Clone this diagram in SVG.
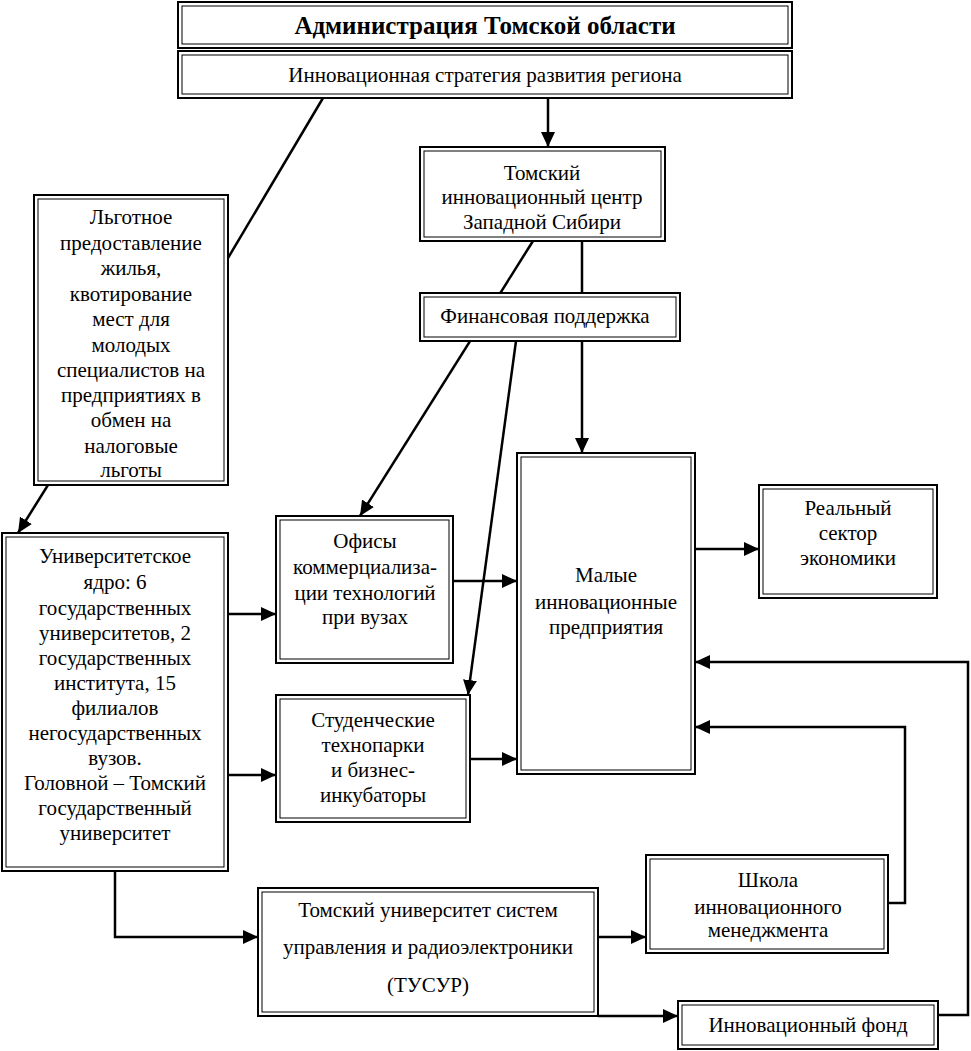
<svg xmlns="http://www.w3.org/2000/svg" width="971" height="1051" viewBox="0 0 971 1051">
<style>
.o{fill:#fff;stroke:#000;stroke-width:2}
.i{fill:none;stroke:#000;stroke-width:1}
text{font-family:"Liberation Serif","DejaVu Serif","Times New Roman",serif;font-size:21px;fill:#000;text-anchor:middle}
.b{font-weight:bold;font-size:25px}
.c{fill:none;stroke:#000;stroke-width:2.5}
.a{marker-end:url(#ah)}
</style>
<defs>
<marker id="ah" markerUnits="userSpaceOnUse" markerWidth="16" markerHeight="14" refX="15" refY="7" orient="auto">
<path d="M0,0 L15,7 L0,14 Z" fill="#000"/>
</marker>
</defs>
<g id="connectors">
<line class="c" x1="323" y1="98" x2="228" y2="258"/>
<line class="c a" x1="548" y1="98" x2="548" y2="147"/>
<line class="c a" x1="533" y1="241" x2="360" y2="516"/>
<line class="c" x1="582" y1="241" x2="582" y2="293"/>
<line class="c a" x1="582" y1="341" x2="582" y2="453"/>
<line class="c a" x1="516" y1="341" x2="468" y2="695"/>
<line class="c a" x1="48" y1="485" x2="18" y2="533"/>
<line class="c a" x1="228" y1="614" x2="276" y2="614"/>
<line class="c a" x1="228" y1="775" x2="276" y2="775"/>
<line class="c a" x1="453" y1="581" x2="517" y2="581"/>
<line class="c a" x1="470" y1="759" x2="517" y2="759"/>
<line class="c a" x1="695" y1="549" x2="759" y2="549"/>
<polyline class="c a" points="938,1015 968,1015 968,662 695,662"/>
<polyline class="c a" points="888,903 905,903 905,727 695,727"/>
<polyline class="c a" points="115,871 115,937 258,937"/>
<line class="c a" x1="598" y1="937" x2="646" y2="937"/>
<line class="c a" x1="598" y1="1016" x2="678" y2="1016"/>
</g>
<g id="admin"><rect class="o" x="178" y="2" width="614" height="46"/><rect class="i" x="182" y="6" width="606" height="38"/><text class="b" x="485" y="34">Администрация Томской области</text></g>
<g id="strategy"><rect class="o" x="178" y="51" width="614" height="47"/><rect class="i" x="182" y="55" width="606" height="39"/><text x="485" y="82">Инновационная стратегия развития региона</text></g>
<g id="center"><rect class="o" x="420" y="147" width="245" height="94"/><rect class="i" x="424" y="151" width="237" height="86"/><text x="542" y="180">Томский</text><text x="542" y="204">инновационный центр</text><text x="542" y="229">Западной Сибири</text></g>
<g id="finance"><rect class="o" x="420" y="293" width="260" height="48"/><rect class="i" x="424" y="297" width="252" height="40"/><text x="545" y="323">Финансовая поддержка</text></g>
<g id="housing"><rect class="o" x="34" y="195" width="194" height="290"/><rect class="i" x="38" y="199" width="186" height="282"/>
<text x="131" y="224">Льготное</text><text x="131" y="250">предоставление</text><text x="131" y="275">жилья,</text><text x="131" y="301">квотирование</text><text x="131" y="326">мест для</text><text x="131" y="352">молодых</text><text x="131" y="377">специалистов на</text><text x="131" y="402">предприятиях в</text><text x="131" y="427">обмен на</text><text x="131" y="453">налоговые</text><text x="131" y="477">льготы</text></g>
<g id="university"><rect class="o" x="2" y="533" width="226" height="338"/><rect class="i" x="6" y="537" width="218" height="330"/>
<text x="115" y="563">Университетское</text><text x="115" y="589">ядро: 6</text><text x="115" y="615">государственных</text><text x="115" y="640">университетов, 2</text><text x="115" y="665">государственных</text><text x="115" y="690">института, 15</text><text x="115" y="715">филиалов</text><text x="115" y="740">негосударственных</text><text x="115" y="765">вузов.</text><text x="115" y="790">Головной – Томский</text><text x="115" y="815">государственный</text><text x="115" y="840">университет</text></g>
<g id="offices"><rect class="o" x="276" y="516" width="177" height="147"/><rect class="i" x="280" y="520" width="169" height="139"/>
<text x="365" y="548">Офисы</text><text x="365" y="574">коммерциализа-</text><text x="365" y="600">ции технологий</text><text x="365" y="624">при вузах</text></g>
<g id="technoparks"><rect class="o" x="276" y="695" width="194" height="127"/><rect class="i" x="280" y="699" width="186" height="119"/>
<text x="373" y="727">Студенческие</text><text x="373" y="752">технопарки</text><text x="373" y="777">и бизнес-</text><text x="373" y="802">инкубаторы</text></g>
<g id="small"><rect class="o" x="517" y="453" width="178" height="321"/><rect class="i" x="521" y="457" width="170" height="313"/>
<text x="606" y="582">Малые</text><text x="606" y="609">инновационные</text><text x="606" y="634">предприятия</text></g>
<g id="real"><rect class="o" x="759" y="485" width="178" height="113"/><rect class="i" x="763" y="489" width="170" height="105"/>
<text x="848" y="515">Реальный</text><text x="848" y="540">сектор</text><text x="848" y="565">экономики</text></g>
<g id="school"><rect class="o" x="646" y="855" width="242" height="98"/><rect class="i" x="650" y="859" width="234" height="90"/>
<text x="768" y="887">Школа</text><text x="768" y="914">инновационного</text><text x="768" y="937">менеджмента</text></g>
<g id="tusur"><rect class="o" x="258" y="888" width="340" height="128"/><rect class="i" x="262" y="892" width="332" height="120"/>
<text x="428" y="917">Томский университет систем</text><text x="428" y="954">управления и радиоэлектроники</text><text x="428" y="992">(ТУСУР)</text></g>
<g id="fund"><rect class="o" x="678" y="1001" width="260" height="48"/><rect class="i" x="682" y="1005" width="252" height="40"/><text x="808" y="1032">Инновационный фонд</text></g>
</svg>
